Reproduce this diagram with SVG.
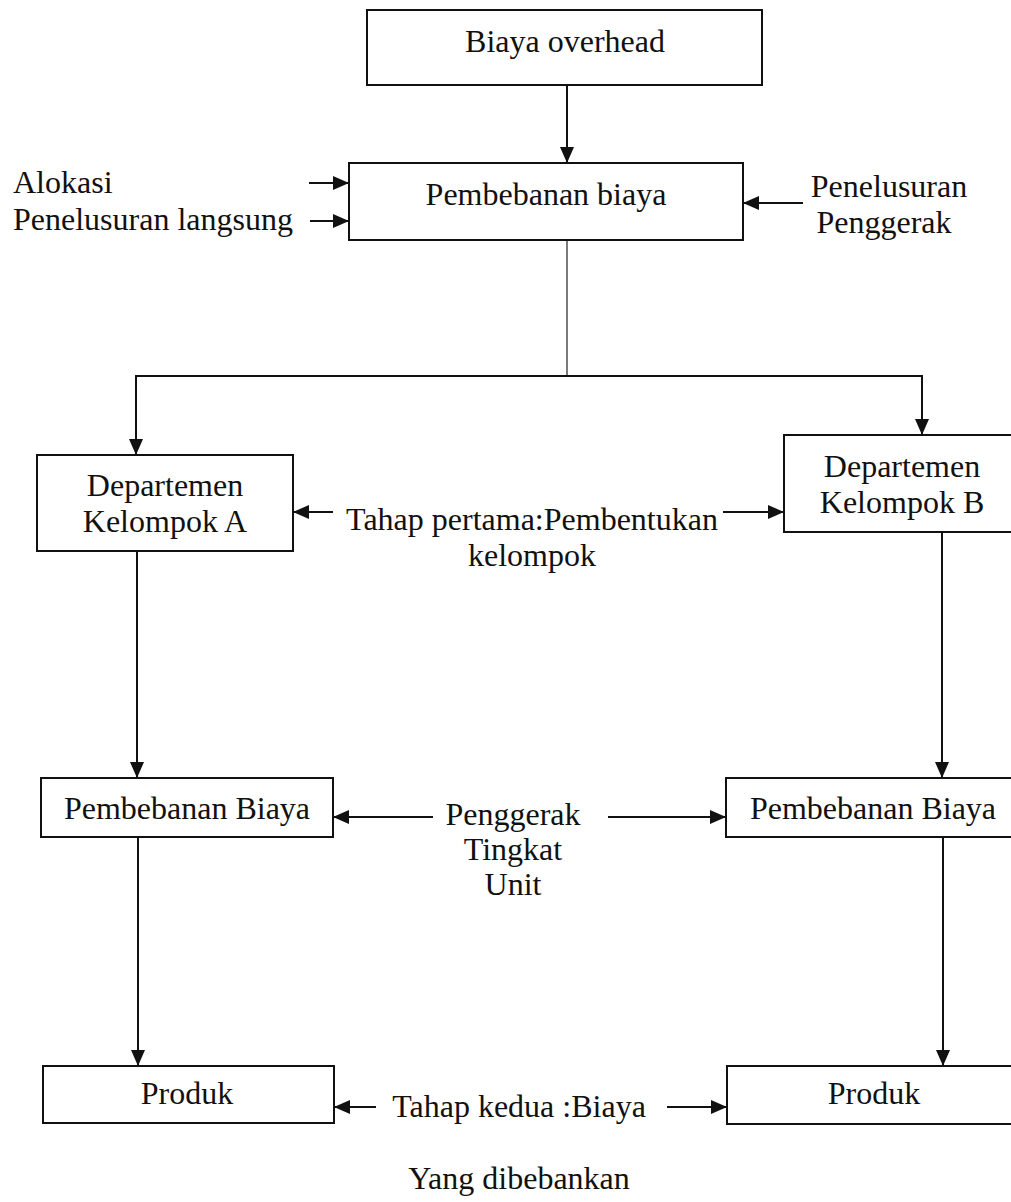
<svg xmlns="http://www.w3.org/2000/svg" width="1011" height="1202" viewBox="0 0 1011 1202">
  <style>
    .box { fill: #ffffff; stroke: #111111; stroke-width: 2; }
    .lbl { font-family: "Liberation Serif", "Times New Roman", serif; font-size: 32px; fill: #111111; }
    .mid { text-anchor: middle; }
    .conn { fill: none; stroke: #111111; stroke-width: 2; }
    .thin { stroke-width: 1.3; stroke: #333333; }
  </style>
  <defs>
    <marker id="arrow" viewBox="0 0 16 16" refX="16" refY="8" markerWidth="16" markerHeight="16" markerUnits="userSpaceOnUse" orient="auto">
      <path d="M0,1 L16,8 L0,15 Z" fill="#111111"/>
    </marker>
  </defs>
  <rect width="1011" height="1202" fill="#ffffff"/>

  <g id="connectors">
    <!-- overhead to cost assignment -->
    <line class="conn" x1="567" y1="85" x2="567" y2="163" marker-end="url(#arrow)"/>
    <!-- side inputs into cost assignment -->
    <line class="conn" x1="309" y1="183" x2="349" y2="183" marker-end="url(#arrow)"/>
    <line class="conn" x1="310" y1="221" x2="349" y2="221" marker-end="url(#arrow)"/>
    <line class="conn" x1="803" y1="203" x2="743" y2="203" marker-end="url(#arrow)"/>
    <!-- split to departments -->
    <line class="conn thin" x1="567" y1="240" x2="567" y2="376"/>
    <polyline class="conn" points="567,376 136,376 136,455" marker-end="url(#arrow)"/>
    <polyline class="conn" points="567,376 922,376 922,435" marker-end="url(#arrow)"/>
    <!-- stage one label arrows -->
    <line class="conn" x1="333" y1="512" x2="293" y2="512" marker-end="url(#arrow)"/>
    <line class="conn" x1="723" y1="512" x2="784" y2="512" marker-end="url(#arrow)"/>
    <!-- departments to cost assignment -->
    <line class="conn" x1="137" y1="551" x2="137" y2="778" marker-end="url(#arrow)"/>
    <line class="conn" x1="942" y1="532" x2="942" y2="778" marker-end="url(#arrow)"/>
    <!-- unit-level driver arrows -->
    <line class="conn" x1="433" y1="817" x2="333" y2="817" marker-end="url(#arrow)"/>
    <line class="conn" x1="608" y1="817" x2="726" y2="817" marker-end="url(#arrow)"/>
    <!-- cost assignment to products -->
    <line class="conn" x1="138" y1="837" x2="138" y2="1066" marker-end="url(#arrow)"/>
    <line class="conn" x1="943" y1="837" x2="943" y2="1066" marker-end="url(#arrow)"/>
    <!-- stage two arrows -->
    <line class="conn" x1="376" y1="1107" x2="334" y2="1107" marker-end="url(#arrow)"/>
    <line class="conn" x1="667" y1="1107" x2="727" y2="1107" marker-end="url(#arrow)"/>
  </g>

  <g id="biaya-overhead">
    <rect class="box" x="367" y="10" width="395" height="75"/>
    <text class="lbl mid" x="565" y="52">Biaya overhead</text>
  </g>

  <g id="pembebanan-biaya">
    <rect class="box" x="349" y="163" width="394" height="77"/>
    <text class="lbl mid" x="546" y="205">Pembebanan biaya</text>
  </g>

  <g id="label-alokasi">
    <text class="lbl" x="13" y="193">Alokasi</text>
    <text class="lbl" x="13" y="230">Penelusuran langsung</text>
  </g>

  <g id="label-penelusuran-penggerak">
    <text class="lbl mid" x="889" y="197">Penelusuran</text>
    <text class="lbl mid" x="884" y="233">Penggerak</text>
  </g>

  <g id="departemen-a">
    <rect class="box" x="37" y="455" width="256" height="96"/>
    <text class="lbl mid" x="165" y="496">Departemen</text>
    <text class="lbl mid" x="165" y="532">Kelompok A</text>
  </g>

  <g id="departemen-b">
    <rect class="box" x="784" y="435" width="240" height="97"/>
    <text class="lbl mid" x="902" y="477">Departemen</text>
    <text class="lbl mid" x="902" y="513">Kelompok B</text>
  </g>

  <g id="label-tahap-pertama">
    <text class="lbl mid" x="532" y="530">Tahap pertama:Pembentukan</text>
    <text class="lbl mid" x="532" y="566">kelompok</text>
  </g>

  <g id="pembebanan-biaya-a">
    <rect class="box" x="41" y="778" width="292" height="59"/>
    <text class="lbl mid" x="187" y="819">Pembebanan Biaya</text>
  </g>

  <g id="pembebanan-biaya-b">
    <rect class="box" x="726" y="778" width="294" height="59"/>
    <text class="lbl mid" x="873" y="819">Pembebanan Biaya</text>
  </g>

  <g id="label-penggerak">
    <text class="lbl mid" x="513" y="825">Penggerak</text>
    <text class="lbl mid" x="513" y="860">Tingkat</text>
    <text class="lbl mid" x="513" y="895">Unit</text>
  </g>

  <g id="produk-a">
    <rect class="box" x="43" y="1066" width="291" height="57"/>
    <text class="lbl mid" x="187" y="1104">Produk</text>
  </g>

  <g id="produk-b">
    <rect class="box" x="727" y="1066" width="293" height="58"/>
    <text class="lbl mid" x="874" y="1104">Produk</text>
  </g>

  <g id="label-tahap-kedua">
    <text class="lbl mid" x="519" y="1117">Tahap kedua :Biaya</text>
    <text class="lbl mid" x="519" y="1189">Yang dibebankan</text>
  </g>
</svg>
